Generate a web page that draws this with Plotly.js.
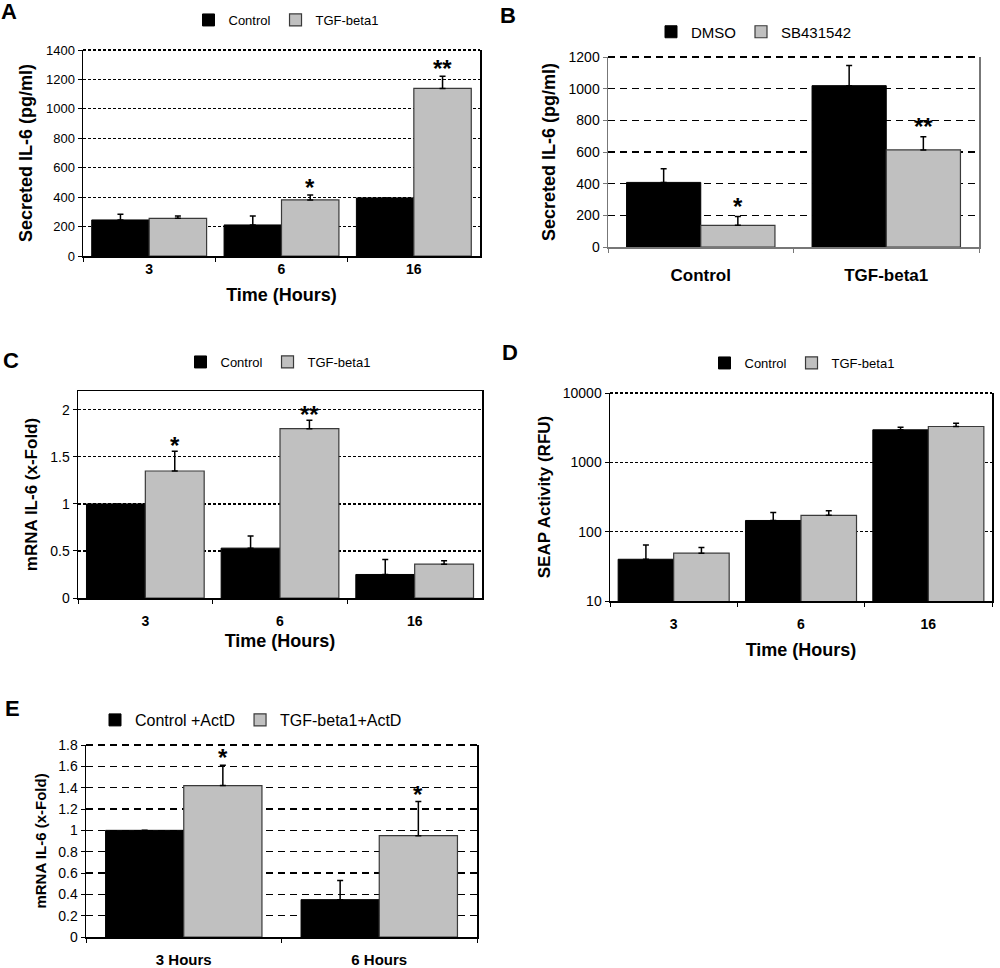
<!DOCTYPE html>
<html>
<head>
<meta charset="utf-8">
<script src="https://cdn.plot.ly/plotly-3.0.1.min.js"></script>
<style>html,body{margin:0;padding:0;background:#fff;}#chart{width:1000px;height:968px;}</style>
</head>
<body>
<div id="chart"></div>
<script>
// ---------- data ----------
const timeCats = ['3', '6', '16'];

// Panel A: secreted IL-6 (pg/ml)
const aControl = [245, 211, 395];
const aControlErr = [38, 61, 0];
const aTgf = [256, 381, 1139];
const aTgfErr = [16, 34, 82];
const aStars = ['', '*', '**'];

// Panel B: secreted IL-6 with inhibitor
const bCats = ['Control', 'TGF-beta1'];
const bDmso = [408, 1019];
const bDmsoErr = [87, 128];
const bSb = [137, 613];
const bSbErr = [55, 84];
const bStars = ['*', '**'];

// Panel C: mRNA IL-6 (x-fold)
const cControl = [1.0, 0.53, 0.25];
const cControlErr = [0, 0.13, 0.16];
const cTgf = [1.35, 1.80, 0.36];
const cTgfErr = [0.21, 0.09, 0.035];
const cStars = ['*', '**', ''];

// Panel D: SEAP activity (RFU), log scale
const dControl = [40, 145, 2944];
const dControlErr = [24, 44, 270];
const dTgf = [49, 172, 3288];
const dTgfErr = [10, 28, 384];
const dTickVals = [10, 100, 1000, 10000];
const dTickText = ['10', '100', '1000', '10000'];

// Panel E: mRNA IL-6 with ActD
const eCats = ['3 Hours', '6 Hours'];
const eControl = [1.0, 0.35];
const eControlErr = [0, 0.18];
const eTgf = [1.42, 0.95];
const eTgfErr = [0.19, 0.32];
const eStars = ['*', '*'];

// ---------- styling helpers ----------
const FONT = 'Arial, "Liberation Sans", Helvetica, sans-serif';
const W = 1000, H = 968;
const BLACK = '#000000';
const GRAY = '#c0c0c0';
const GRAY_LINE = '#3a3a3a';

function px2x(p) { return p / W; }
function px2y(p) { return 1 - p / H; }
function zeros(n) { return new Array(n).fill(0); }

function makePair(cats, v1, e1, n1, v2, e2, n2, xa, ya, legendId, barW) {
  return [
    {
      type: 'bar', x: cats, y: v1, name: n1, xaxis: xa, yaxis: ya, legend: legendId,
      width: barW, offset: -barW,
      marker: { color: BLACK, line: { color: BLACK, width: 1 } },
      error_y: { type: 'data', array: e1, arrayminus: zeros(e1.length), symmetric: false,
                 color: BLACK, thickness: 1.5, width: 3, visible: true },
      hoverinfo: 'skip'
    },
    {
      type: 'bar', x: cats, y: v2, name: n2, xaxis: xa, yaxis: ya, legend: legendId,
      width: barW, offset: 0,
      marker: { color: GRAY, line: { color: GRAY_LINE, width: 1.2 } },
      error_y: { type: 'data', array: e2, arrayminus: zeros(e2.length), symmetric: false,
                 color: BLACK, thickness: 1.5, width: 3, visible: true },
      hoverinfo: 'skip'
    }
  ];
}

const traces = [].concat(
  makePair(timeCats, aControl, aControlErr, 'Control', aTgf, aTgfErr, 'TGF-beta1', 'x', 'y', 'legend', 0.434),
  makePair(bCats, bDmso, bDmsoErr, 'DMSO', bSb, bSbErr, 'SB431542', 'x2', 'y2', 'legend2', 0.40),
  makePair(timeCats, cControl, cControlErr, 'Control', cTgf, cTgfErr, 'TGF-beta1', 'x3', 'y3', 'legend3', 0.437),
  makePair(timeCats, dControl, dControlErr, 'Control', dTgf, dTgfErr, 'TGF-beta1', 'x4', 'y4', 'legend4', 0.436),
  makePair(eCats, eControl, eControlErr, 'Control +ActD', eTgf, eTgfErr, 'TGF-beta1+ActD', 'x5', 'y5', 'legend5', 0.40)
);

function xAxis(domain, anchor, tickSize, titleText, lineColor, labelStandoff, titleStandoff) {
  const ax = {
    domain: domain, anchor: anchor, type: 'category',
    showline: true, linecolor: lineColor || BLACK, linewidth: 1.5,
    ticks: 'outside', tickson: 'boundaries', ticklen: 4, tickcolor: lineColor || BLACK,
    ticklabelstandoff: labelStandoff || 0,
    showgrid: false, zeroline: false, fixedrange: true,
    tickfont: { family: FONT, size: tickSize, color: BLACK, weight: 'bold' }
  };
  if (titleText) {
    ax.title = { text: titleText, font: { family: FONT, size: 18, color: BLACK, weight: 'bold' }, standoff: titleStandoff || 8 };
  }
  return ax;
}

function yAxis(domain, anchor, range, dtick, titleText, tickSize, titleSize, dash, gridW, lineColor) {
  return {
    domain: domain, anchor: anchor, range: range, dtick: dtick,
    showline: true, linecolor: lineColor || BLACK, linewidth: 1.5, mirror: true,
    ticks: 'outside', ticklen: 4, tickcolor: lineColor || BLACK,
    showgrid: true, gridcolor: BLACK, gridwidth: gridW, griddash: dash,
    zeroline: false, fixedrange: true,
    tickfont: { family: FONT, size: tickSize, color: BLACK },
    title: { text: titleText, font: { family: FONT, size: titleSize, color: BLACK, weight: 'bold' }, standoff: 8 }
  };
}

const domA = { x: [px2x(83), px2x(480)], y: [px2y(256), px2y(50)] };
const domB = { x: [px2x(608), px2x(979)], y: [px2y(247), px2y(57)] };
const domC = { x: [px2x(78), px2x(482)], y: [px2y(598), px2y(391)] };
const domD = { x: [px2x(610), px2x(992)], y: [px2y(601), px2y(393)] };
const domE = { x: [px2x(86), px2x(477)], y: [px2y(937), px2y(745)] };

const fineDash = '3px,2px';
const longDash = '7px,5px';

const layout = {
  width: W, height: H,
  margin: { l: 0, r: 0, t: 0, b: 0 },
  paper_bgcolor: '#ffffff', plot_bgcolor: '#ffffff',
  barmode: 'overlay',
  font: { family: FONT, color: BLACK },
  showlegend: true,

  xaxis: xAxis(domA.x, 'y', 14, 'Time (Hours)', BLACK, 0, 12),
  yaxis: yAxis(domA.y, 'x', [0, 1400], 200, 'Secreted IL-6 (pg/ml)', 13, 18, fineDash, 1.2, BLACK),

  xaxis2: xAxis(domB.x, 'y2', 17, null, '#777777', 12),
  yaxis2: yAxis(domB.y, 'x2', [0, 1200], 200, 'Secreted IL-6 (pg/ml)', 14, 18, longDash, 1.5, '#777777'),

  xaxis3: Object.assign(xAxis(domC.x, 'y3', 14, 'Time (Hours)', BLACK, 10, 6), { mirror: true }),
  yaxis3: yAxis(domC.y, 'x3', [0, 2.2], 0.5, 'mRNA IL-6 (x-Fold)', 14, 17, fineDash, 1.2, BLACK),

  xaxis4: xAxis(domD.x, 'y4', 14, 'Time (Hours)', BLACK, 10, 12),
  yaxis4: Object.assign(yAxis(domD.y, 'x4', [1, 4], null, 'SEAP Activity (RFU)', 14, 17, fineDash, 1.2, BLACK),
                        { type: 'log', tickvals: dTickVals, ticktext: dTickText }),

  xaxis5: xAxis(domE.x, 'y5', 15, null, BLACK, 8),
  yaxis5: yAxis(domE.y, 'x5', [0, 1.8], 0.2, 'mRNA IL-6 (x-Fold)', 14, 15, longDash, 1.5, BLACK),

  legend: { orientation: 'h', x: px2x(286), y: px2y(20), xanchor: 'center', yanchor: 'middle',
            font: { family: FONT, size: 13 }, itemwidth: 30, bgcolor: 'rgba(0,0,0,0)' },
  legend2: { orientation: 'h', x: px2x(754), y: px2y(32), xanchor: 'center', yanchor: 'middle',
             font: { family: FONT, size: 15 }, itemwidth: 30, bgcolor: 'rgba(0,0,0,0)' },
  legend3: { orientation: 'h', x: px2x(278), y: px2y(362), xanchor: 'center', yanchor: 'middle',
             font: { family: FONT, size: 13 }, itemwidth: 30, bgcolor: 'rgba(0,0,0,0)' },
  legend4: { orientation: 'h', x: px2x(802), y: px2y(363), xanchor: 'center', yanchor: 'middle',
             font: { family: FONT, size: 13 }, itemwidth: 30, bgcolor: 'rgba(0,0,0,0)' },
  legend5: { orientation: 'h', x: px2x(251), y: px2y(720), xanchor: 'center', yanchor: 'middle',
             font: { family: FONT, size: 16 }, itemwidth: 30, bgcolor: 'rgba(0,0,0,0)' },

  annotations: [],
  shapes: []
};

// dashed top border of the plot frames (A, B, D, E)
[['x', 'y', fineDash, 2.2], ['x2', 'y2', longDash, 2.2], ['x4', 'y4', fineDash, 2.2], ['x5', 'y5', longDash, 2.2]].forEach(function (s) {
  layout.shapes.push({
    type: 'line', xref: s[0] + ' domain', yref: s[1] + ' domain', x0: 0, x1: 1, y0: 1, y1: 1,
    layer: 'above', line: { color: BLACK, width: s[3], dash: s[2] }
  });
});

// panel letters
const panelLabels = [['A', 9, 12], ['B', 508, 16], ['C', 11, 360], ['D', 510, 352], ['E', 12, 708]];
panelLabels.forEach(function (p) {
  layout.annotations.push({
    text: p[0], xref: 'paper', yref: 'paper', x: px2x(p[1]), y: px2y(p[2]),
    xanchor: 'center', yanchor: 'middle', showarrow: false,
    font: { family: FONT, size: 22, color: BLACK, weight: 'bold' }
  });
});

// significance stars above the second bar of each group
function addStars(stars, vals, errs, barW, xref, yref, shift) {
  stars.forEach(function (s, i) {
    if (!s) return;
    const top = vals[i] + errs[i];
    layout.annotations.push({
      text: s, xref: xref, yref: yref, x: i + barW / 2, y: top,
      xanchor: 'center', yanchor: 'bottom', yshift: shift, showarrow: false,
      font: { family: FONT, size: 24, color: BLACK, weight: 'bold' }
    });
  });
}
addStars(aStars, aTgf, aTgfErr, 0.434, 'x', 'y', -8);
addStars(bStars, bSb, bSbErr, 0.40, 'x2', 'y2', -5);
addStars(cStars, cTgf, cTgfErr, 0.437, 'x3', 'y3', -10);
addStars(eStars, eTgf, eTgfErr, 0.40, 'x5', 'y5', -8);

Plotly.newPlot('chart', traces, layout, { staticPlot: true, displayModeBar: false });
</script>
</body>
</html>
